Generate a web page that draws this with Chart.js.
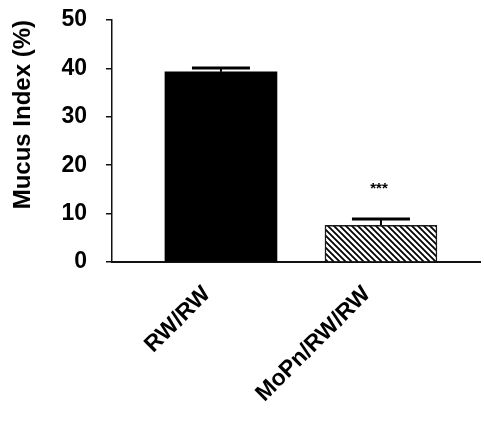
<!DOCTYPE html>
<html>
<head>
<meta charset="utf-8">
<script src="https://cdn.jsdelivr.net/npm/chart.js@4.4.1/dist/chart.umd.min.js"></script>
<style>
  html, body { margin: 0; padding: 0; background: #ffffff; }
  canvas { display: block; }
</style>
</head>
<body>
<canvas id="chart" width="484" height="428"></canvas>
<script>
// Mucus index per group (mean, upper SEM) and significance marks
const groups = ['RW/RW', 'MoPn/RW/RW'];
const mucusIndex = [39.3, 7.6];
const sem = [0.8, 1.3];
const significance = ['', '***'];
const yTicks = [0, 10, 20, 30, 40, 50];

const FONT = '"Liberation Sans", Arial, Helvetica, sans-serif';
const INK = '#111111';

// Diagonal hatch fill for the treated group
function makeHatch() {
  const size = 6;
  const c = document.createElement('canvas');
  c.width = size; c.height = size;
  const g = c.getContext('2d');
  g.fillStyle = '#ffffff';
  g.fillRect(0, 0, size, size);
  g.strokeStyle = '#000000';
  g.lineWidth = 1.8;
  g.beginPath();
  g.moveTo(-1, -1); g.lineTo(size + 1, size + 1);
  g.moveTo(-1, size - 1); g.lineTo(1, size + 1);
  g.moveTo(size - 1, -1); g.lineTo(size + 1, 1);
  g.stroke();
  return g.createPattern(c, 'repeat');
}

// Upper error bars plus significance stars above them
const errorBars = {
  id: 'errorBars',
  afterDatasetsDraw(chart) {
    const meta = chart.getDatasetMeta(0);
    const y = chart.scales.y;
    const ctx = chart.ctx;
    ctx.save();
    ctx.strokeStyle = '#000000';
    meta.data.forEach((bar, i) => {
      const top = y.getPixelForValue(mucusIndex[i]);
      const cap = y.getPixelForValue(mucusIndex[i] + sem[i]);
      const half = 29;
      ctx.lineWidth = 2;
      ctx.beginPath();
      ctx.moveTo(bar.x, top);
      ctx.lineTo(bar.x, cap);
      ctx.stroke();
      ctx.lineWidth = 3;
      ctx.beginPath();
      ctx.moveTo(bar.x - half, cap);
      ctx.lineTo(bar.x + half, cap);
      ctx.stroke();
      if (significance[i]) {
        ctx.fillStyle = '#000000';
        ctx.font = 'bold 15px ' + FONT;
        ctx.textAlign = 'center';
        ctx.textBaseline = 'middle';
        ctx.fillText(significance[i], bar.x - 2, cap - 30);
      }
    });
    ctx.restore();
  }
};

new Chart(document.getElementById('chart'), {
  type: 'bar',
  data: {
    datasets: [{
      data: groups.map((g, i) => ({ x: i, y: mucusIndex[i] })),
      backgroundColor: ['#000000', makeHatch()],
      borderColor: ['#000000', '#1a1a1a'],
      borderWidth: [0, 1.5],
      barThickness: 112
    }]
  },
  plugins: [errorBars],
  options: {
    responsive: false,
    devicePixelRatio: 1,
    animation: false,
    layout: { padding: { left: 0, right: 4, top: 20, bottom: 0 } },
    plugins: { legend: { display: false }, tooltip: { enabled: false } },
    scales: {
      x: {
        type: 'linear',
        offset: false,
        min: -0.681,
        max: 1.619,
        afterBuildTicks(scale) {
          scale.ticks = groups.map((g, i) => ({ value: i }));
        },
        afterFit(scale) { scale.height = 166; },
        grid: { display: false },
        border: { display: true, color: INK, width: 2 },
        ticks: {
          callback: (v) => groups[v],
          color: '#000000',
          font: { family: FONT, size: 23, weight: 'bold' },
          minRotation: 45,
          maxRotation: 45,
          padding: 11,
          labelOffset: -14,
          autoSkip: false
        }
      },
      y: {
        min: 0,
        max: 50,
        afterBuildTicks(scale) {
          scale.ticks = yTicks.map(v => ({ value: v }));
        },
        afterFit(scale) {
          scale.width = 112;
          scale.paddingTop = 0;
          scale.paddingBottom = 0;
        },
        grid: {
          drawOnChartArea: false,
          drawTicks: true,
          tickLength: 6,
          tickColor: INK,
          lineWidth: 1.5
        },
        border: { display: true, color: INK, width: 1.5 },
        ticks: {
          color: '#000000',
          font: { family: FONT, size: 23, weight: 'bold' },
          padding: 19
        },
        title: {
          display: true,
          text: 'Mucus Index (%)',
          align: 'end',
          color: '#000000',
          font: { family: FONT, size: 24, weight: 'bold' },
          padding: { top: 9, bottom: 0 }
        }
      }
    }
  }
});
</script>
</body>
</html>
